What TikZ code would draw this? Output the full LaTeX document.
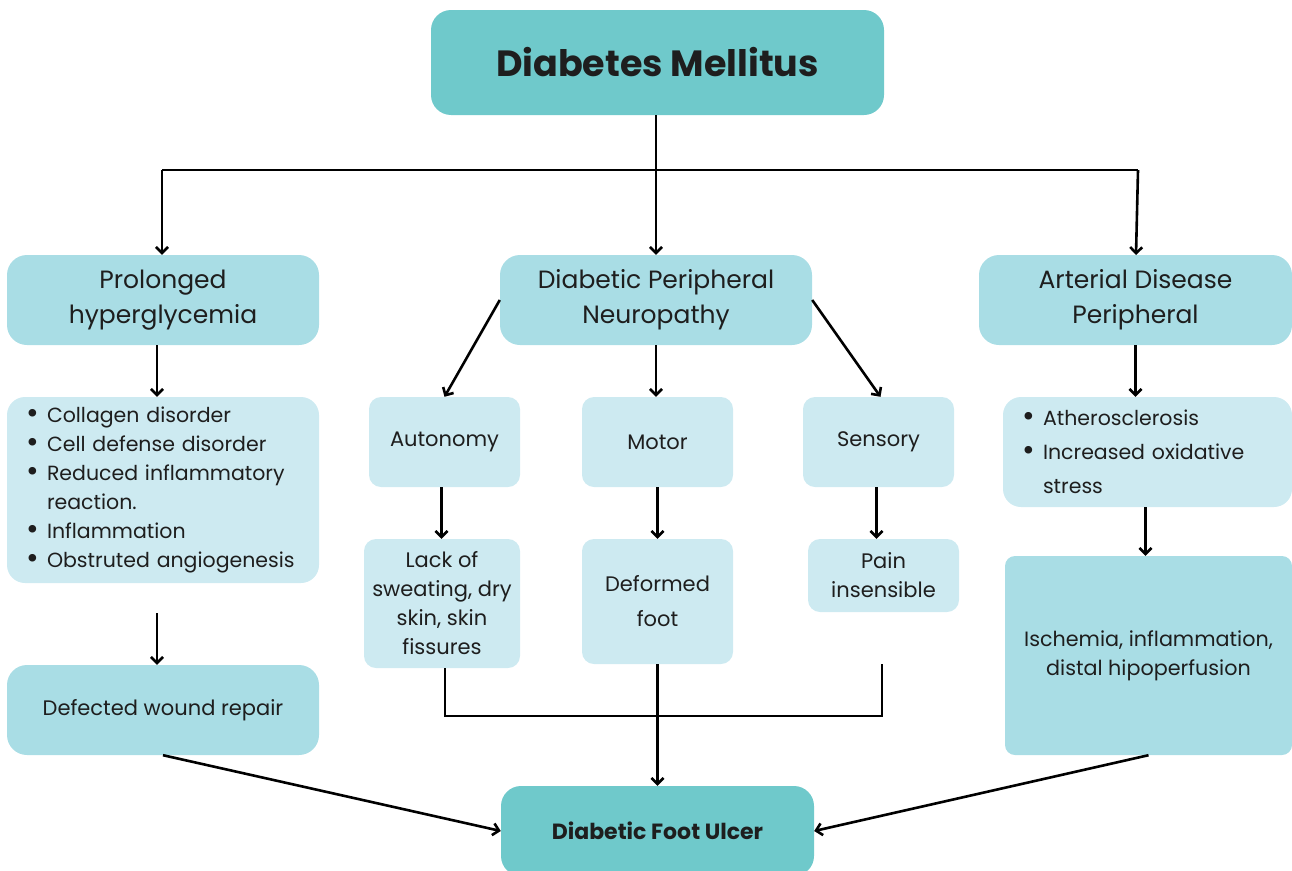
\documentclass[tikz,border=0pt]{standalone}
\usepackage{fontspec}
\setmainfont{Poppins}
\usetikzlibrary{arrows.meta}
\definecolor{teal1}{HTML}{6FC9CB}
\definecolor{mid1}{HTML}{A9DDE5}
\definecolor{light1}{HTML}{CDEAF1}
\definecolor{txt}{HTML}{1E1E1E}
\newcommand{\bitem}{\makebox[21pt][l]{\raisebox{-0.5pt}{\scalebox{1.5}{\textbullet}}}}
\newcommand{\bcont}{\hspace*{21pt}}
\tikzset{
  box/.style={rounded corners=20pt, draw=none, align=center, inner sep=0pt, text=txt},
  topbox/.style={box, fill=teal1, font=\bfseries\fontsize{36.5}{42}\selectfont},
  midbox/.style={box, fill=mid1, font=\fontsize{25}{35}\selectfont},
  smallbox/.style={rounded corners=12pt, fill=light1, align=center, inner sep=0pt, text=txt, font=\fontsize{21}{29}\selectfont},
  listbox/.style={rounded corners=18pt, fill=light1, align=left, inner xsep=19pt, inner ysep=0pt, text=txt},
  arr/.style={-{Straight Barb[length=6pt,width=12pt]}, line width=2.6pt},
  ln/.style={line width=2.6pt}
}
\begin{document}
\begin{tikzpicture}[x=1pt,y=-1pt]
\useasboundingbox (0,0) rectangle (1292,870);
% top
\node[topbox, minimum width=453pt, minimum height=105pt] (dm) at (657.5,62.5) {Diabetes Mellitus};
% level 2
\node[midbox, minimum width=312pt, minimum height=90pt] (ph) at (163,300) {Prolonged\\hyperglycemia};
\node[midbox, minimum width=312pt, minimum height=90pt] (dpn) at (656,300) {Diabetic Peripheral\\Neuropathy};
\node[midbox, minimum width=313pt, minimum height=90pt] (ad) at (1135.5,300) {Arterial Disease\\Peripheral};
% left column
\node[listbox, text width=274pt, minimum width=312pt, minimum height=186pt, font=\fontsize{20.5}{29}\selectfont] (lb) at (163,490)
 {\bitem Collagen disorder\\\bitem Cell defense disorder\\\bitem Reduced inflammatory\\\bcont reaction.\\\bitem Inflammation\\\bitem Obstruted angiogenesis};
\node[midbox, minimum width=312pt, minimum height=90pt, font=\fontsize{21}{29}\selectfont] (dwr) at (163,710) {Defected wound repair};
% middle
\node[smallbox, minimum width=151pt, minimum height=90pt] (aut) at (444.5,442) {Autonomy};
\node[smallbox, minimum width=151pt, minimum height=90pt] (mot) at (657.5,442) {Motor};
\node[smallbox, minimum width=151pt, minimum height=90pt] (sen) at (878.5,442) {Sensory};
\node[smallbox, minimum width=156pt, minimum height=129pt] (lack) at (442,603.5) {Lack of\\sweating, dry\\skin, skin\\fissures};
\node[smallbox, minimum width=151pt, minimum height=125pt, font=\fontsize{21}{35}\selectfont] (def) at (657.5,601.5) {Deformed\\foot};
\node[smallbox, minimum width=151pt, minimum height=73pt] (pain) at (883.5,575.5) {Pain\\insensible};
% right column
\node[listbox, text width=251pt, minimum width=289pt, minimum height=110pt, font=\fontsize{20.5}{34}\selectfont] (ab) at (1147.5,452)
 {\bitem Atherosclerosis\\\bitem Increased oxidative\\\bcont stress};
\node[box, rounded corners=10pt, fill=mid1, minimum width=287pt, minimum height=199pt, font=\fontsize{20.7}{29}\selectfont] (isch) at (1148.5,655.5) {Ischemia, inflammation,\\distal hipoperfusion};
% bottom
\node[topbox, minimum width=313pt, minimum height=90pt, font=\bfseries\fontsize{22}{26}\selectfont] (dfu) at (657.5,831) {Diabetic Foot Ulcer};
% connectors
\coordinate (j) at (656,170);
\coordinate (jl) at (162,170);
\coordinate (jr) at (1138,170);
\draw[ln] (dm.south -| j) -- (j);
\draw[ln] (jl) -- (jr);
\draw[arr] (jl) -- (jl |- ph.north);
\draw[arr] (j) -- (j |- dpn.north);
\draw[arr] (jr) -- (1136,255);
\draw[arr] ([xshift=-6pt]ph.south) -- ([xshift=-6pt]lb.north);
\coordinate (lf) at (157,613);
\draw[arr] (lf) -- (lf |- dwr.north);
\draw[arr] (dpn.west) -- (aut.north);
\draw[arr] (dpn.south) -- (dpn.south |- mot.north);
\draw[arr] (dpn.east) -- ([xshift=2pt]sen.north);
\draw[arr] ([xshift=-3pt]aut.south) -- ([xshift=-3pt]aut.south |- lack.north);
\draw[arr] (mot.south) -- (def.north);
\draw[arr] ([xshift=-2pt]sen.south) -- ([xshift=-2pt]sen.south |- pain.north);
\coordinate (ps) at (882,664);
\coordinate (hb) at (445,716);
\draw[ln] ([xshift=3pt]lack.south) -- (hb) -- (hb -| ps) -- (ps);
\draw[arr] (def.south) -- (dfu.north);
\draw[arr] (ad.south) -- (ad.south |- ab.north);
\draw[arr] ([xshift=-2pt]ab.south) -- ([xshift=-2pt]ab.south |- isch.north);
\draw[arr] (dwr.south) -- (dfu.west);
\draw[arr] (isch.south) -- (dfu.east);
\end{tikzpicture}
\end{document}
